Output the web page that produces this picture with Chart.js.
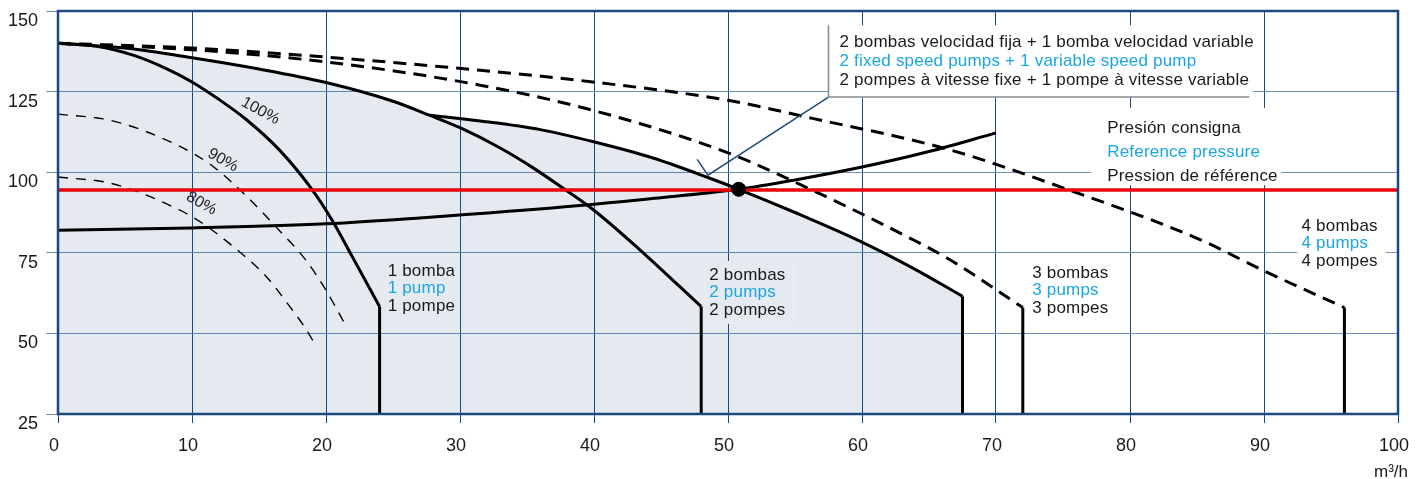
<!DOCTYPE html>
<html lang="es">
<head>
<meta charset="UTF-8">
<title>Curvas de bombas</title>
<script src="https://cdn.jsdelivr.net/npm/chart.js"></script>
<style>
  html, body { margin: 0; padding: 0; background: #fff; }
</style>
</head>
<body>
<canvas id="pumpChart" width="1427" height="479"></canvas>
<script>
// valores: [caudal m3/h, presión]
const onePump      = [[0,140],[3,139],[5.6,136.3],[8,132.3],[10,128],[12,122.6],[14,116.5],[16.5,107],[18.8,95.5],[20.5,84.8],[22,73.5],[24,58.3]];
const speed90      = [[0,118],[4,116],[9.1,108],[11.6,101.7],[14.1,92.4],[16.5,82],[18.5,72.7],[20,63.4],[21.4,53]];
const speed80      = [[0,98.5],[4,96.5],[9.1,88.2],[10.8,84.1],[13.4,75.8],[15.55,67.6],[17.3,58.3],[18.4,52],[19.2,46.5]];
const twoPumps     = [[0,140],[5,138.5],[10,135.5],[15,132],[20,127.8],[25,122],[27.7,117.7],[30,113.8],[33,107.5],[35.4,101.5],[37.7,95],[39.9,88.5],[43.4,76],[48,58.3]];
const twoPlusVar   = [[27.7,117.7],[31.5,115.9],[36,113.2],[39.9,109.5],[44.4,104.4],[48.6,98.2],[50.8,94.7],[55,87.5],[59.8,78.7],[64,69.8],[67.5,61.5]];
const threePumps   = [[0,140],[10,138],[20,134.2],[31.5,127],[39.9,119.2],[50,106],[56.3,94.4],[63.6,79.5],[66.5,73],[72,58]];
const fourPumps    = [[0,140],[10,138.5],[20,135.7],[31.5,131.6],[39.9,128],[50,122.3],[56.3,116.7],[66.5,107],[75.5,94.4],[85,79.5],[90.2,69],[96,58]];
const systemCurve  = [[0,82],[10,82.7],[20,84],[27,85.8],[39.4,89.8],[45,92.1],[50.8,94.7],[55,97.6],[60,101.6],[65,106.4],[70,112.2]];
const setPressure  = 94.5;
const workPoint    = [50.8, 94.7];

const xTicks = [0,10,20,30,40,50,60,70,80,90,100];
const yTicks = [25,50,75,100,125,150];

// textos
const pumpLabels = [
  { at: [24.6, 69.3], lines: ['1 bomba', '1 pump', '1 pompe'], bg: null },
  { at: [48.6, 68.1], lines: ['2 bombas', '2 pumps', '2 pompes'], bg: 'rgb(229,234,240)' },
  { at: [72.7, 68.7], lines: ['3 bombas', '3 pumps', '3 pompes'], bg: null },
  { at: [92.8, 83.3], lines: ['4 bombas', '4 pumps', '4 pompes'], bg: '#fff' }
];
const refLabel = ['Presión consigna', 'Reference pressure', 'Pression de référence'];
const comboLabel = ['2 bombas velocidad fija + 1 bomba velocidad variable',
                    '2 fixed speed pumps + 1 variable speed pump',
                    '2 pompes à vitesse fixe + 1 pompe à vitesse variable'];
const speedLabels = [
  { at: [15.1, 119], text: '100%' },
  { at: [12.3, 103.7], text: '90%' },
  { at: [10.7, 90.3], text: '80%' }
];

const BLACK = '#1a1a1a';
const CYAN = '#1ba6dd';
const NAVY = '#1c4a80';
const FONT = '"Liberation Sans", Arial, sans-serif';

const yMin = yTicks[0];
const pts = arr => arr.map(p => ({ x: p[0], y: p[1] }));
const drop = arr => { const l = arr[arr.length - 1]; return pts([l, [l[0], yMin]]); };

// zona sombreada: 2 bombas hasta la bifurcación, luego 2+1 variable
const branchX = twoPlusVar[0][0];
const envelope = twoPumps.filter(p => p[0] < branchX).concat(twoPlusVar);

function solid(data, w) {
  return { data: data, borderColor: '#000', borderWidth: w || 3, pointRadius: 0, fill: false, cubicInterpolationMode: 'monotone' };
}
function dashed(data, w, dash) {
  return { data: data, borderColor: '#000', borderWidth: w, borderDash: dash, pointRadius: 0, fill: false, cubicInterpolationMode: 'monotone' };
}

const datasets = [
  { data: pts([workPoint]), pointRadius: 7, pointBackgroundColor: '#000', pointBorderColor: '#000', showLine: false },
  { data: pts([[0, setPressure], [100, setPressure]]), borderColor: '#e8000f', borderWidth: 3.5, pointRadius: 0, fill: false },
  solid(pts(systemCurve)),
  solid(pts(onePump)), solid(drop(onePump)),
  solid(pts(twoPumps)), solid(drop(twoPumps)),
  solid(pts(twoPlusVar)), solid(drop(twoPlusVar)),
  dashed(pts(threePumps), 3, [13, 8]), solid(drop(threePumps)),
  dashed(pts(fourPumps), 3, [13, 8]), solid(drop(fourPumps)),
  dashed(pts(speed90), 1.4, [10, 8]),
  dashed(pts(speed80), 1.4, [10, 8]),
  { data: pts(envelope), borderWidth: 0, pointRadius: 0, cubicInterpolationMode: 'monotone', fill: 'start', backgroundColor: 'rgba(0,50,110,0.1)' }
];

function textBlock(ctx, x, y, lines, lh, colors) {
  lines.forEach((t, i) => {
    ctx.fillStyle = colors[i % colors.length];
    ctx.fillText(t, x, y + i * lh);
  });
}

const extras = {
  id: 'extras',
  afterDatasetsDraw(chart) {
    const ctx = chart.ctx, xs = chart.scales.x, ys = chart.scales.y, a = chart.chartArea;
    const px = v => xs.getPixelForValue(v), py = v => ys.getPixelForValue(v);
    ctx.save();
    ctx.font = '17px ' + FONT;
    ctx.letterSpacing = '0.2px';
    ctx.textBaseline = 'middle';
    ctx.textAlign = 'left';

    // etiquetas de número de bombas
    pumpLabels.forEach(l => {
      const x = px(l.at[0]), y = py(l.at[1]);
      if (l.bg) {
        const w = Math.max(...l.lines.map(t => ctx.measureText(t).width));
        ctx.fillStyle = '#fff';
        ctx.fillRect(x - 4, y - 14, w + 12, 3 * 17.5 + 10);
        ctx.fillStyle = l.bg;
        ctx.fillRect(x - 4, y - 14, w + 12, 3 * 17.5 + 10);
      }
      textBlock(ctx, x, y, l.lines, 17.5, [BLACK, CYAN, BLACK]);
    });

    // presión de referencia
    let x = px(78.3), y = py(113.7);
    ctx.fillStyle = '#fff';
    ctx.fillRect(x - 16, y - 20, 190, 77);
    textBlock(ctx, x, y, refLabel, 24, [BLACK, CYAN, BLACK]);

    // recuadro 2 fijas + 1 variable, con línea de referencia
    const bx = px(57.5), by = py(145.6), bw = px(89.2) - bx, bh = py(123.3) - by;
    ctx.strokeStyle = NAVY;
    ctx.lineWidth = 1.5;
    ctx.beginPath();
    ctx.moveTo(bx, by + bh);
    ctx.lineTo(px(48.5), py(99.1));
    ctx.lineTo(px(47.7), py(104));
    ctx.stroke();
    ctx.fillStyle = '#fff';
    ctx.fillRect(bx, by, bw, bh);
    ctx.strokeStyle = '#8a8a8a';
    ctx.lineWidth = 1.5;
    ctx.beginPath();
    ctx.moveTo(bx, by);
    ctx.lineTo(bx, by + bh);
    ctx.lineTo(bx + bw - 4, by + bh);
    ctx.stroke();
    textBlock(ctx, bx + 11, by + 17, comboLabel, 19, [BLACK, CYAN, BLACK]);

    // porcentajes de velocidad
    ctx.font = '16px ' + FONT;
    ctx.letterSpacing = '0px';
    ctx.textAlign = 'center';
    ctx.fillStyle = '#222';
    speedLabels.forEach(s => {
      ctx.save();
      ctx.translate(px(s.at[0]), py(s.at[1]));
      ctx.rotate(29 * Math.PI / 180);
      ctx.fillText(s.text, 0, 0);
      ctx.restore();
    });

    // marco del gráfico
    ctx.strokeStyle = NAVY;
    ctx.lineWidth = 2.5;
    ctx.strokeRect(a.left, a.top, a.right - a.left, a.bottom - a.top);

    // unidad eje x
    ctx.font = '17px ' + FONT;
    ctx.textAlign = 'right';
    ctx.fillStyle = BLACK;
    ctx.fillText('m³/h', a.right + 10, a.bottom + 58);
    ctx.restore();
  }
};

new Chart(document.getElementById('pumpChart'), {
  type: 'line',
  data: { datasets: datasets },
  plugins: [extras],
  options: {
    responsive: false,
    animation: false,
    layout: { padding: { top: 11, right: 29, left: 0, bottom: 0 } },
    plugins: { legend: { display: false }, tooltip: { enabled: false } },
    scales: {
      x: {
        type: 'linear', min: 0, max: 100,
        afterFit: s => { s.height = 65; },
        afterBuildTicks: s => { s.ticks = xTicks.map(v => ({ value: v })); },
        grid: { color: NAVY, lineWidth: 1, tickLength: 9 },
        border: { display: false },
        ticks: { color: BLACK, font: { size: 18, family: FONT }, padding: 12, labelOffset: -4, maxRotation: 0 }
      },
      y: {
        type: 'linear', min: 25, max: 150,
        afterFit: s => { s.width = 58; s.paddingTop = 0; s.paddingBottom = 0; },
        afterBuildTicks: s => { s.ticks = yTicks.map(v => ({ value: v })); },
        grid: { color: '#6f8fb8', lineWidth: 1, tickLength: 12 },
        border: { display: false },
        ticks: { color: BLACK, font: { size: 18, family: FONT }, padding: 8, labelOffset: 10 }
      }
    }
  }
});
</script>
</body>
</html>
